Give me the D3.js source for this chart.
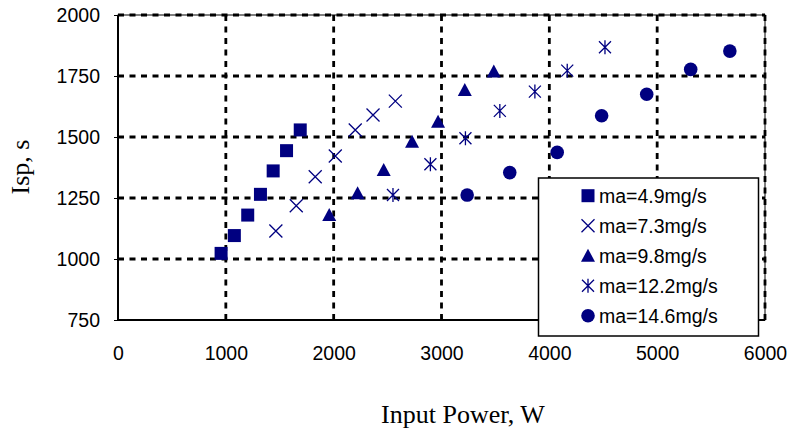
<!DOCTYPE html>
<html>
<head>
<meta charset="utf-8">
<script src="https://cdn.jsdelivr.net/npm/d3@7"></script>
<style>
  body { margin: 0; background: #fff; }
  svg { display: block; }
  .tick-label { font-family: "Liberation Sans", Arial, sans-serif; font-size: 19.5px; fill: #000; }
  .title { font-family: "Liberation Serif", "Times New Roman", serif; font-size: 26px; fill: #000; }
  .legend-text { font-family: "Liberation Sans", Arial, sans-serif; font-size: 19.5px; fill: #000; }
</style>
</head>
<body>
<div class="chart"></div>
<script>
// series data (power in W, Isp in s)
const seriesNames = ["ma=4.9mg/s", "ma=7.3mg/s", "ma=9.8mg/s", "ma=12.2mg/s", "ma=14.6mg/s"];
const seriesShapes = ["square", "cross", "triangle", "star", "circle"];

const power49 = [956, 1079, 1203, 1321, 1439, 1563, 1690];
const isp49   = [1023, 1096, 1180, 1265, 1361, 1444, 1529];

const power73 = [1464, 1653, 1829, 2015, 2200, 2365, 2572];
const isp73   = [1115, 1218, 1337, 1422, 1529, 1590, 1647];

const power98 = [1959, 2222, 2464, 2727, 2968, 3216, 3485];
const isp98   = [1180, 1269, 1365, 1481, 1563, 1693, 1768];

const power122 = [2550, 2897, 3222, 3541, 3866, 4166, 4516];
const isp122   = [1262, 1388, 1495, 1607, 1686, 1772, 1868];

const power146 = [3238, 3633, 4073, 4485, 4903, 5311, 5674];
const isp146   = [1262, 1354, 1437, 1587, 1675, 1777, 1852];

const xTicks = [0, 1000, 2000, 3000, 4000, 5000, 6000];
const yTicks = [750, 1000, 1250, 1500, 1750, 2000];

const powers = [power49, power73, power98, power122, power146];
const isps = [isp49, isp73, isp98, isp122, isp146];

const width = 788, height = 431;
const margin = {left: 118, right: 23, top: 15, bottom: 111};
const navy = "#000080";

let svg = d3.select(".chart").append("svg")
    .attr("width", width)
    .attr("height", height);

let x = d3.scaleLinear().domain([0, 6000]).range([margin.left, width - margin.right]);
let y = d3.scaleLinear().domain([750, 2000]).range([height - margin.bottom, margin.top]);

// plot frame
svg.append("rect")
    .attr("x", x(0)).attr("y", y(2000))
    .attr("width", x(6000) - x(0)).attr("height", y(750) - y(2000))
    .attr("fill", "none").attr("stroke", "#000").attr("stroke-width", 1);

// dashed grid
let grid = svg.append("g").attr("stroke", "#000").attr("stroke-width", 2.8).attr("stroke-dasharray", "6,5.5");
grid.selectAll(".gx").data(xTicks.filter(d => d > 0)).enter().append("line")
    .attr("x1", d => x(d)).attr("x2", d => x(d))
    .attr("y1", y(750)).attr("y2", y(2000));
grid.selectAll(".gy").data(yTicks.filter(d => d > 750)).enter().append("line")
    .attr("x1", x(0)).attr("x2", x(6000))
    .attr("y1", d => y(d)).attr("y2", d => y(d));

// axes
let xAxis = d3.axisBottom(x).tickValues(xTicks).tickSize(-4).tickPadding(0).tickFormat(d3.format("d"));
let yAxis = d3.axisLeft(y).tickValues(yTicks).tickSize(4).tickPadding(0).tickFormat(d3.format("d"));

let gx = svg.append("g").attr("transform", `translate(0,${y(750)})`).call(xAxis);
let gy = svg.append("g").attr("transform", `translate(${x(0)},0)`).call(yAxis);

[gx, gy].forEach(g => {
  g.select(".domain").attr("stroke", "#000").attr("stroke-width", 2);
  g.selectAll(".tick line").attr("stroke", "#000").attr("stroke-width", 1);
  g.selectAll(".tick text").attr("class", "tick-label").attr("font-size", null).attr("font-family", null);
});
gx.select(".domain").attr("d", `M${x(0)},0H${x(6000)}`);
gy.select(".domain").attr("d", `M0,${y(750)}V${y(2000)}`);
gx.selectAll(".tick text").attr("y", 40).attr("dy", null);
gy.selectAll(".tick text").attr("x", -18).attr("dy", "0.35em");

// titles
svg.append("text").attr("class", "title")
    .attr("x", 463).attr("y", 423)
    .attr("text-anchor", "middle")
    .text("Input Power, W");
svg.append("text").attr("class", "title")
    .attr("transform", "translate(29,167) rotate(-90)")
    .attr("text-anchor", "middle")
    .text("Isp, s");

// marker drawing
function drawMarker(g, shape, cx, cy) {
  if (shape === "square") {
    g.append("rect").attr("x", cx - 6.5).attr("y", cy - 6.5).attr("width", 13).attr("height", 13).attr("fill", navy);
  } else if (shape === "circle") {
    g.append("circle").attr("cx", cx).attr("cy", cy).attr("r", 6.8).attr("fill", navy);
  } else if (shape === "triangle") {
    g.append("path").attr("d", `M${cx},${cy - 7}L${cx + 7},${cy + 6}L${cx - 7},${cy + 6}Z`).attr("fill", navy);
  } else if (shape === "cross") {
    g.append("path").attr("d", `M${cx - 6.5},${cy - 6.5}L${cx + 6.5},${cy + 6.5}M${cx + 6.5},${cy - 6.5}L${cx - 6.5},${cy + 6.5}`)
      .attr("stroke", navy).attr("stroke-width", 1.3).attr("fill", "none");
  } else if (shape === "star") {
    g.append("path").attr("d", `M${cx - 6},${cy - 6}L${cx + 6},${cy + 6}M${cx + 6},${cy - 6}L${cx - 6},${cy + 6}M${cx},${cy - 7}L${cx},${cy + 7}`)
      .attr("stroke", navy).attr("stroke-width", 1.3).attr("fill", "none");
  }
}

let pts = svg.append("g");
powers.forEach((p, si) => {
  p.forEach((v, i) => {
    drawMarker(pts, seriesShapes[si], x(v), y(isps[si][i]));
  });
});

// legend
let legend = svg.append("g");
legend.append("rect")
    .attr("x", 538.5).attr("y", 178).attr("width", 220).attr("height", 158)
    .attr("fill", "#fff").attr("stroke", "#000").attr("stroke-width", 1.5);
seriesNames.forEach((name, i) => {
  let ly = 195.7 + i * 30;
  drawMarker(legend, seriesShapes[i], 588, ly);
  legend.append("text").attr("class", "legend-text")
      .attr("x", 599).attr("y", ly).attr("dy", "0.35em")
      .text(name);
});
</script>
</body>
</html>
